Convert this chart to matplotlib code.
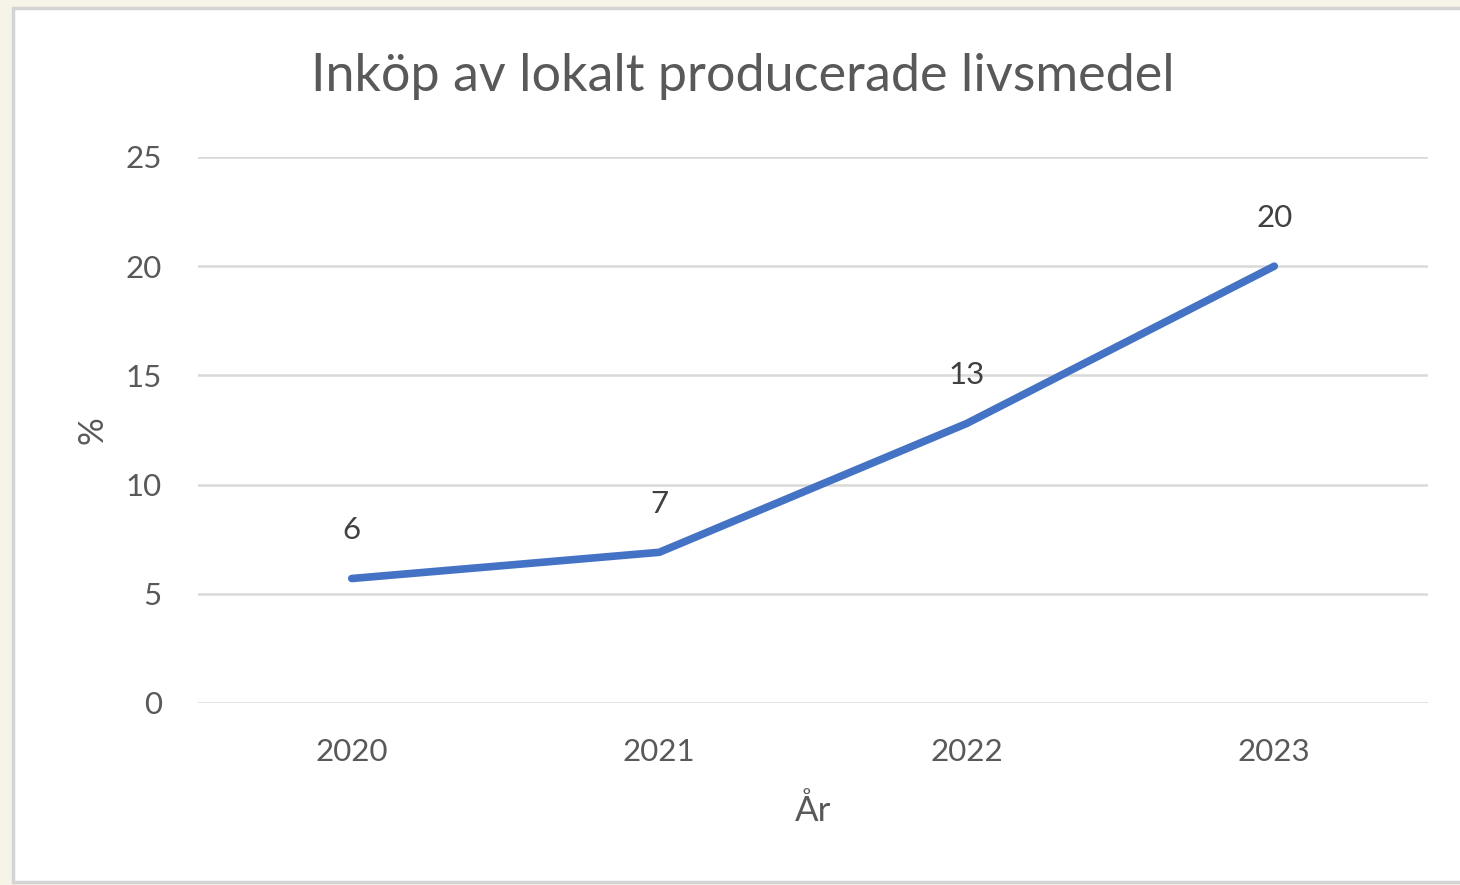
import matplotlib.pyplot as plt
from matplotlib.patches import Rectangle

# data
years = ["2020", "2021", "2022", "2023"]
values = [5.7, 6.9, 12.8, 20.0]
labels = ["6", "7", "13", "20"]
yticks = [0, 5, 10, 15, 20, 25]

plt.rcParams['font.family'] = ['Lato', 'DejaVu Sans']
txt = '#595959'

fig = plt.figure(figsize=(14.6, 8.85), dpi=100)
fig.patch.set_facecolor('#f6f4e8')

# white chart panel with grey edge
fig.patches.append(Rectangle((13/1460, 3/885), 1.0, 1 - 11/885, transform=fig.transFigure,
                             facecolor='white', edgecolor='#d4d4d4', linewidth=2.5, zorder=-10))

ax = fig.add_axes([198/1460, 1 - 703/885, 1230/1460, 546/885])
ax.set_facecolor('none')
x = range(len(years))
ax.plot(x, values, color='#4472C4', linewidth=5.5, solid_capstyle='round', zorder=3)
for xi, v, lab in zip(x, values, labels):
    ax.annotate(lab, (xi, v), xytext=(0, 35), textcoords='offset points',
                ha='center', va='center', fontsize=22.5, color='#404040')

ax.set_xlim(-0.5, 3.5)
ax.set_ylim(0, 25)
ax.set_yticks(yticks)
ax.set_xticks(list(x))
ax.set_xticklabels(years)
ax.grid(axis='y', color='#d9d9d9', linewidth=1.8)
ax.set_axisbelow(True)
for s in ax.spines.values():
    s.set_visible(False)
ax.tick_params(length=0, labelsize=22.5, labelcolor=txt)
ax.tick_params(axis='y', pad=26)
ax.tick_params(axis='x', pad=25.5)

ax.set_ylabel('%', fontsize=25, color=txt, labelpad=12)
ax.set_xlabel('År', fontsize=25, color=txt, labelpad=20)
fig.text(743/1460, 1 - 76/885, 'Inköp av lokalt producerade livsmedel',
         ha='center', va='center', fontsize=37.5, color=txt)

fig.savefig('out.png', dpi=100, facecolor=fig.get_facecolor())
